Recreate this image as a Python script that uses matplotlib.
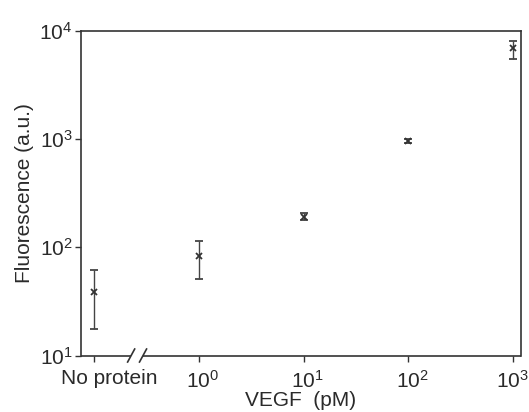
import matplotlib
matplotlib.use("Agg")
import matplotlib.pyplot as plt
from matplotlib.ticker import NullLocator
from matplotlib.transforms import ScaledTranslation

# data ("No protein" is drawn at 10^-1 on the log axis)
conc = [0.1, 1, 10, 100, 1000]
tick_labels = ["No protein", "$10^{0}$", "$10^{1}$", "$10^{2}$", "$10^{3}$"]
fluor = [38.9, 82.6, 192, 960, 6900]
err_low = [17.6, 50.6, 178, 925, 5530]
err_high = [61.6, 114, 207, 1000, 8070]

plt.rcParams['font.family'] = ['Liberation Sans', 'DejaVu Sans']
plt.rcParams['mathtext.fontset'] = 'custom'
plt.rcParams['mathtext.rm'] = 'Liberation Sans'
plt.rcParams['mathtext.it'] = 'Liberation Sans'

ink = "#333333"
txt = "#2a2a2a"

fig = plt.figure(figsize=(5.29, 4.12), dpi=100)
ax = fig.add_axes([0.1531, 0.1371, 0.9849 - 0.1531, 0.9248 - 0.1371])

yerr = [[f - lo for f, lo in zip(fluor, err_low)],
        [hi - f for f, hi in zip(fluor, err_high)]]
ax.errorbar(conc, fluor, yerr=yerr, fmt='x', color=ink, ecolor="#444444",
            markersize=5, markeredgewidth=1.3, elinewidth=1.0, capsize=3,
            capthick=1.0)

ax.set_xscale('log')
ax.set_yscale('log')
ax.set_xlim(10 ** -1.129, 10 ** 3.081)
ax.set_ylim(10, 1e4)

ax.set_xticks(conc)
ax.set_xticklabels(tick_labels)
ax.xaxis.set_minor_locator(NullLocator())
ax.set_yticks([10, 100, 1000, 10000])
ax.set_yticklabels(["$10^{1}$", "$10^{2}$", "$10^{3}$", "$10^{4}$"])
ax.yaxis.set_minor_locator(NullLocator())

ax.tick_params(direction='out', length=4, width=1, color=ink,
               labelsize=15, labelcolor=txt)
ax.tick_params(axis='x', pad=6)
ax.tick_params(axis='y', pad=2)

# the labels sit a bit right of their ticks in the original
# (last one kept centred so it stays inside the picture)
shifts = [15, 4, 4, 4, 0]
for lbl, dx in zip(ax.get_xticklabels(), shifts):
    lbl.set_transform(lbl.get_transform() + ScaledTranslation(dx / 100, 0, fig.dpi_scale_trans))

for side in ['left', 'top', 'right']:
    ax.spines[side].set_color(ink)
    ax.spines[side].set_linewidth(1.2)
ax.spines['bottom'].set_visible(False)

# bottom axis with a break "//"
b1, b2 = 0.114, 0.141
ax.plot([0, b1], [0, 0], transform=ax.transAxes, color=ink, lw=1.2,
        clip_on=False, solid_capstyle='butt')
ax.plot([b2, 1], [0, 0], transform=ax.transAxes, color=ink, lw=1.2,
        clip_on=False, solid_capstyle='butt')
for bx in (b1, b2):
    ax.plot([bx - 0.008, bx + 0.008], [-0.02, 0.02], transform=ax.transAxes,
            color=ink, lw=1.2, clip_on=False)

ax.set_xlabel("VEGF  (pM)", fontsize=15, color=txt, labelpad=0)
ax.set_ylabel("Fluorescence (a.u.)", fontsize=15, color=txt, labelpad=4)

fig.savefig("out.png", dpi=100)
